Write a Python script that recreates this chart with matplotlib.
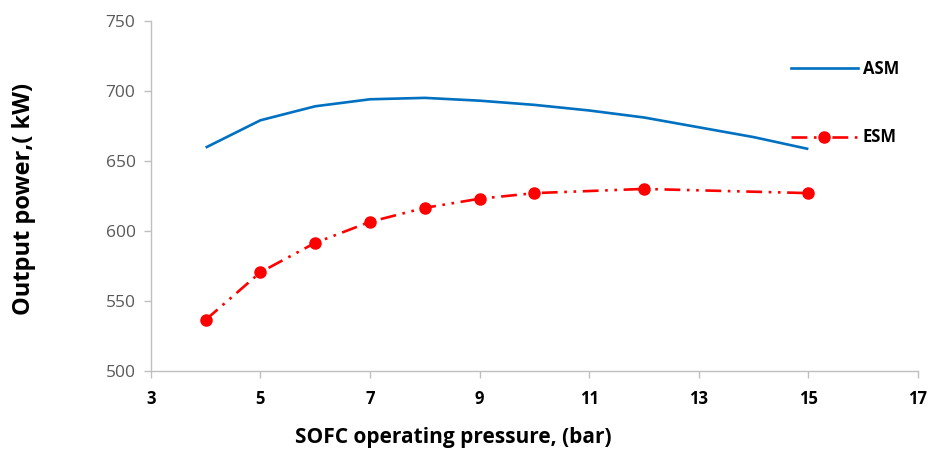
import matplotlib
matplotlib.use("Agg")
import matplotlib.pyplot as plt
from matplotlib.lines import Line2D

asm_x = [4, 5, 6, 7, 8, 9, 10, 11, 12, 13, 14, 15]
asm_y = [659.5, 679, 689, 694, 695, 693, 690, 686, 681, 674, 667, 658.5]
esm_x = [4, 5, 6, 7, 8, 9, 10, 12, 15]
esm_y = [536.5, 570.5, 591.5, 606.5, 616.5, 623, 627, 630, 627]
x_ticks = [3, 5, 7, 9, 11, 13, 15, 17]
y_ticks = [500, 550, 600, 650, 700, 750]

plt.rcParams['font.family'] = ['Open Sans', 'DejaVu Sans']
fig = plt.figure(figsize=(9.31, 4.53), dpi=100)
ax = fig.add_axes([0.162, 0.181, 0.824, 0.773])

ax.plot(asm_x, asm_y, color='#0070C0', lw=1.9, solid_capstyle='butt')
ax.plot(esm_x, esm_y, color='#FF0000', lw=1.9, marker='o', markersize=8,
        dashes=(6, 2.5, 1, 2.5, 1, 2.5))

ax.set_xlim(3, 17)
ax.set_ylim(500, 750)
ax.set_xticks(x_ticks)
ax.set_yticks(y_ticks)
ax.set_xticklabels([str(v) for v in x_ticks], fontsize=12, fontweight='bold', color='#000000')
ax.set_yticklabels([str(v) for v in y_ticks], fontsize=12.5, color='#595959')

for s in ['top', 'right']:
    ax.spines[s].set_visible(False)
for s in ['left', 'bottom']:
    ax.spines[s].set_color('#BFBFBF')
    ax.spines[s].set_linewidth(1)
ax.tick_params(axis='both', direction='out', length=5, color='#BFBFBF', width=1)
ax.tick_params(axis='x', pad=9)
ax.tick_params(axis='y', pad=6)

fig.text(295 / 931, 1 - 437 / 453, 'SOFC operating pressure, (bar)', fontsize=15,
         fontweight='bold', ha='left', va='center')
fig.text(24 / 931, 1 - 199 / 453, 'Output power,( kW)', fontsize=17, fontweight='bold',
         rotation=90, ha='center', va='center')

handles = [Line2D([], [], color='#0070C0', lw=1.9),
           Line2D([], [], color='#FF0000', lw=1.9, marker='o', markersize=8,
                  dashes=(6, 2.5, 1, 2.5, 1, 2.5))]
leg = ax.legend(handles, ['ASM', 'ESM'], loc='upper left', bbox_to_anchor=(0.815, 0.932),
                frameon=False, handlelength=4, labelspacing=3.05, handletextpad=0.3,
                prop={'size': 12, 'weight': 'bold'})

fig.savefig('out.png', dpi=100)
